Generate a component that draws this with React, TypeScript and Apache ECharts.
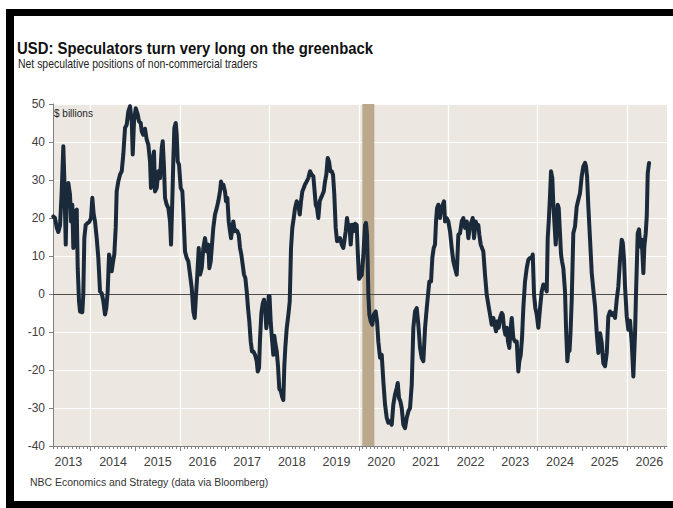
import React, { useEffect, useRef } from 'react';
import * as echarts from 'echarts';

const TITLE = 'USD: Speculators turn very long on the greenback';
const SUBTITLE = 'Net speculative positions of non-commercial traders';
const SOURCE = 'NBC Economics and Strategy (data via Bloomberg)';
const UNIT = '$ billions';

const X_MIN = 2013.156;
const X_MAX = 2026.895;
const Y_MIN = -40;
const Y_MAX = 50;
const Y_STEP = 10;
const YEAR_TICKS = [2014, 2015, 2016, 2017, 2018, 2019, 2020, 2021, 2022, 2023, 2024, 2025, 2026];
const YEAR_LABELS = [2013, 2014, 2015, 2016, 2017, 2018, 2019, 2020, 2021, 2022, 2023, 2024, 2025, 2026];
const GRID_YEARS = [2014, 2016, 2018, 2020, 2022, 2024, 2026];
const RECESSION = [2020.078, 2020.346];

const dates = [
  2013.163, 2013.201, 2013.239, 2013.275, 2013.313, 2013.351, 2013.387, 2013.409, 2013.441, 2013.463,
  2013.499, 2013.537, 2013.559, 2013.588, 2013.611, 2013.649, 2013.687, 2013.709, 2013.738, 2013.761,
  2013.812, 2013.834, 2013.857, 2013.888, 2013.933, 2013.969, 2014.007, 2014.036, 2014.067, 2014.096,
  2014.134, 2014.170, 2014.208, 2014.246, 2014.282, 2014.320, 2014.349, 2014.380, 2014.410, 2014.439,
  2014.470, 2014.499, 2014.528, 2014.559, 2014.581, 2014.617, 2014.655, 2014.694, 2014.729, 2014.768,
  2014.806, 2014.841, 2014.879, 2014.918, 2014.940, 2014.969, 2015.007, 2015.052, 2015.081, 2015.119,
  2015.141, 2015.177, 2015.215, 2015.253, 2015.289, 2015.327, 2015.349, 2015.387, 2015.416, 2015.439,
  2015.477, 2015.513, 2015.551, 2015.589, 2015.611, 2015.640, 2015.663, 2015.701, 2015.737, 2015.775,
  2015.797, 2015.819, 2015.848, 2015.871, 2015.902, 2015.924, 2015.947, 2015.976, 2016.014, 2016.050,
  2016.072, 2016.110, 2016.148, 2016.184, 2016.222, 2016.260, 2016.296, 2016.327, 2016.356, 2016.385,
  2016.417, 2016.446, 2016.484, 2016.520, 2016.558, 2016.596, 2016.632, 2016.654, 2016.685, 2016.714,
  2016.743, 2016.781, 2016.820, 2016.855, 2016.893, 2016.916, 2016.945, 2016.967, 2017.005, 2017.027,
  2017.057, 2017.088, 2017.117, 2017.140, 2017.169, 2017.191, 2017.222, 2017.251, 2017.280, 2017.312,
  2017.341, 2017.370, 2017.401, 2017.430, 2017.460, 2017.491, 2017.520, 2017.549, 2017.580, 2017.609,
  2017.639, 2017.677, 2017.715, 2017.737, 2017.766, 2017.788, 2017.818, 2017.849, 2017.878, 2017.907,
  2017.929, 2017.952, 2017.983, 2018.001, 2018.028, 2018.057, 2018.086, 2018.108, 2018.131, 2018.162,
  2018.191, 2018.220, 2018.252, 2018.281, 2018.310, 2018.332, 2018.355, 2018.386, 2018.422, 2018.453,
  2018.482, 2018.511, 2018.543, 2018.572, 2018.610, 2018.646, 2018.677, 2018.706, 2018.735, 2018.766,
  2018.795, 2018.833, 2018.869, 2018.907, 2018.945, 2018.981, 2019.004, 2019.035, 2019.064, 2019.093,
  2019.124, 2019.153, 2019.183, 2019.214, 2019.243, 2019.272, 2019.303, 2019.332, 2019.362, 2019.393,
  2019.422, 2019.451, 2019.482, 2019.511, 2019.541, 2019.579, 2019.617, 2019.652, 2019.675, 2019.706,
  2019.735, 2019.764, 2019.787, 2019.818, 2019.847, 2019.876, 2019.914, 2019.952, 2019.975, 2020.004,
  2020.033, 2020.064, 2020.100, 2020.138, 2020.160, 2020.183, 2020.198, 2020.212, 2020.234, 2020.266,
  2020.301, 2020.333, 2020.377, 2020.407, 2020.436, 2020.474, 2020.512, 2020.548, 2020.586, 2020.624,
  2020.659, 2020.697, 2020.736, 2020.771, 2020.809, 2020.847, 2020.870, 2020.899, 2020.928, 2020.959,
  2020.995, 2021.033, 2021.071, 2021.107, 2021.145, 2021.183, 2021.219, 2021.257, 2021.295, 2021.331,
  2021.369, 2021.407, 2021.443, 2021.481, 2021.519, 2021.555, 2021.577, 2021.615, 2021.644, 2021.675,
  2021.704, 2021.727, 2021.749, 2021.778, 2021.816, 2021.839, 2021.877, 2021.906, 2021.928, 2021.966,
  2022.002, 2022.040, 2022.078, 2022.114, 2022.152, 2022.190, 2022.226, 2022.264, 2022.302, 2022.338,
  2022.376, 2022.414, 2022.450, 2022.488, 2022.526, 2022.548, 2022.577, 2022.615, 2022.651, 2022.673,
  2022.696, 2022.727, 2022.756, 2022.785, 2022.823, 2022.861, 2022.897, 2022.935, 2022.973, 2023.009,
  2023.040, 2023.069, 2023.098, 2023.130, 2023.159, 2023.197, 2023.219, 2023.248, 2023.278, 2023.309,
  2023.338, 2023.367, 2023.398, 2023.421, 2023.456, 2023.495, 2023.533, 2023.568, 2023.591, 2023.622,
  2023.651, 2023.680, 2023.718, 2023.756, 2023.792, 2023.830, 2023.868, 2023.891, 2023.920, 2023.949,
  2023.980, 2024.016, 2024.054, 2024.092, 2024.128, 2024.166, 2024.204, 2024.226, 2024.249, 2024.278,
  2024.300, 2024.329, 2024.352, 2024.374, 2024.405, 2024.428, 2024.450, 2024.472, 2024.502, 2024.524,
  2024.546, 2024.575, 2024.613, 2024.636, 2024.665, 2024.696, 2024.714, 2024.737, 2024.763, 2024.799,
  2024.837, 2024.875, 2024.911, 2024.949, 2024.987, 2025.023, 2025.061, 2025.083, 2025.106, 2025.135,
  2025.173, 2025.211, 2025.247, 2025.285, 2025.323, 2025.359, 2025.397, 2025.435, 2025.470, 2025.509,
  2025.547, 2025.582, 2025.620, 2025.658, 2025.694, 2025.732, 2025.770, 2025.806, 2025.844, 2025.882,
  2025.905, 2025.934, 2025.956, 2025.994, 2026.030, 2026.068, 2026.106, 2026.142, 2026.180, 2026.202,
  2026.240, 2026.269, 2026.298, 2026.330, 2026.366, 2026.388, 2026.419, 2026.442, 2026.464, 2026.493,
];

const positions = [
  20.4, 20.0, 17.5, 16.3, 18.0, 27.0, 38.9, 30.5, 13.0, 26.0,
  29.2, 26.1, 19.1, 23.5, 12.1, 21.8, 22.2, 6.8, -1.9, -4.6,
  -4.8, -0.2, 14.7, 18.2, 18.7, 19.0, 20.0, 25.3, 20.9, 19.1,
  14.7, 9.5, 0.7, 0.2, -1.9, -5.4, -3.7, 0.7, 10.4, 8.6,
  6.0, 8.5, 10.4, 17.4, 27.0, 29.6, 31.4, 32.3, 36.7, 43.7,
  44.6, 48.0, 49.4, 45.4, 36.7, 45.4, 48.9, 47.2, 45.4, 45.0,
  42.8, 41.9, 43.5, 40.6, 39.3, 34.9, 27.9, 34.9, 37.5, 27.0,
  27.9, 32.3, 30.5, 38.4, 40.2, 33.2, 25.3, 23.5, 22.6, 19.1,
  13.0, 21.8, 34.9, 43.7, 45.0, 41.9, 34.9, 34.0, 27.9, 27.0,
  21.8, 11.2, 9.5, 8.6, 5.1, 1.6, -4.6, -6.3, -0.2, 5.1,
  12.1, 5.1, 6.8, 12.1, 14.7, 11.2, 13.0, 6.8, 8.6, 13.0,
  17.4, 20.9, 22.6, 24.4, 27.0, 29.6, 27.9, 28.8, 27.0, 24.4,
  25.3, 19.1, 16.5, 14.7, 17.4, 19.1, 16.5, 16.8, 16.5, 15.6,
  12.1, 10.4, 7.7, 5.1, 4.2, 0.7, -3.7, -7.2, -12.5, -15.1,
  -15.1, -16.0, -17.7, -20.4, -19.5, -12.0, -5.0, -2.5, -1.5, -4.5,
  -9.0, -6.5, -0.5, -0.5, -7.5, -12.0, -16.0, -11.0, -13.0, -15.0,
  -19.0, -25.0, -25.5, -27.0, -27.9, -19.0, -14.0, -9.0, -5.5, -2.0,
  12.1, 17.4, 20.0, 22.6, 24.4, 23.5, 20.9, 24.4, 27.0, 27.9,
  28.8, 29.6, 30.5, 32.3, 31.4, 31.0, 27.9, 23.5, 22.6, 20.0,
  24.4, 25.3, 26.1, 27.0, 29.6, 31.4, 35.8, 34.9, 32.3, 32.3,
  31.4, 26.1, 17.4, 13.9, 14.0, 14.7, 13.0, 12.1, 13.9, 16.5,
  20.0, 17.4, 18.2, 13.0, 18.2, 16.5, 18.5, 18.2, 11.2, 4.0,
  4.5, 5.0, 10.0, 18.2, 18.7, 15.6, 8.6, -0.2, -5.4, -7.2,
  -8.1, -5.4, -4.6, -7.2, -12.5, -16.8, -16.0, -23.0, -29.1, -32.6,
  -33.9, -33.5, -34.4, -29.1, -26.5, -24.7, -23.4, -27.4, -28.2, -30.0,
  -34.4, -35.3, -32.6, -30.9, -30.0, -23.9, -8.9, -4.6, -3.7, -8.1,
  -14.2, -16.8, -17.7, -8.9, -3.7, 0.7, 3.3, 3.3, 9.5, 12.1,
  13.0, 19.1, 22.6, 23.5, 20.0, 22.2, 23.5, 24.4, 19.1, 20.0,
  19.1, 16.5, 12.1, 8.6, 6.8, 5.1, 15.6, 16.0, 19.1, 20.0,
  17.4, 19.1, 14.7, 18.2, 19.1, 20.0, 14.7, 19.1, 17.4, 18.2,
  15.6, 13.0, 12.1, 11.2, 5.1, -0.2, -2.8, -5.4, -8.1, -6.3,
  -8.1, -9.8, -7.2, -8.9, -6.3, -5.0, -5.4, -8.9, -10.7, -8.9,
  -12.5, -14.2, -8.9, -6.3, -11.6, -12.5, -12.5, -20.4, -17.7, -16.0,
  -11.6, -3.7, 3.3, 6.8, 9.0, 9.5, 9.5, 10.4, -0.2, -3.7,
  -5.4, -8.9, -3.7, 0.7, 2.5, 2.2, 0.7, 14.7, 19.1, 26.1,
  32.3, 30.5, 23.5, 19.1, 13.0, 18.2, 23.5, 22.6, 15.6, 10.4,
  8.6, 6.8, 0.7, -8.9, -17.7, -13.3, -15.0, -10.0, -1.5, 16.0,
  17.8, 23.0, 24.8, 26.6, 31.0, 33.6, 34.5, 33.6, 31.0, 23.0,
  14.3, 5.5, 1.1, -3.2, -10.3, -15.5, -10.3, -12.9, -18.2, -19.0,
  -15.5, -5.9, -4.6, -5.5, -5.0, -6.3, -1.5, 2.0, 9.0, 14.3,
  13.5, 9.0, 2.0, -5.9, -9.4, -7.0, -12.9, -21.7, -10.3, 0.3,
  16.0, 17.0, 12.5, 14.3, 5.5, 12.5, 16.0, 20.4, 31.8, 34.5,
];

const FONT = '"Liberation Sans", Arial, Helvetica, sans-serif';
const LINE_COLOR = '#1b2a3a';
const PLOT_BG = '#ece8e1';
const BAND_COLOR = '#bba88d';
const AXIS_COLOR = '#7f7f7f';

function monthTicks(): number[] {
  const out: number[] = [];
  for (let y = 2013; y <= 2026; y++) {
    for (let m = 0; m < 12; m++) {
      const v = y + m / 12;
      if (v >= X_MIN && v <= X_MAX) out.push(v);
    }
  }
  return out;
}

export default function App() {
  const ref = useRef<HTMLDivElement>(null);

  useEffect(() => {
    if (!ref.current) return;
    const chart = echarts.init(ref.current, null, { renderer: 'svg' });
    const seriesData = dates.map((d, i) => [d, positions[i]]);

    const hiddenAxisBase = {
      type: 'value',
      gridIndex: 0,
      position: 'bottom',
      min: X_MIN,
      max: X_MAX,
      axisLine: { show: false, onZero: false },
      axisLabel: { show: false },
    };

    const zeroStyle = { color: '#4d4d4d', width: 1, type: 'solid' };

    chart.setOption({
      animation: false,
      backgroundColor: '#ffffff',
      grid: {
        left: 53,
        top: 104,
        width: 614,
        height: 342,
        show: true,
        backgroundColor: PLOT_BG,
        borderWidth: 0,
      },
      xAxis: [
        {
          type: 'value',
          gridIndex: 0,
          position: 'bottom',
          min: X_MIN,
          max: X_MAX,
          axisLine: { show: true, onZero: false, lineStyle: { color: AXIS_COLOR, width: 1 } },
          axisTick: { show: true, length: 5, customValues: YEAR_TICKS, lineStyle: { color: AXIS_COLOR, width: 1 } },
          axisLabel: {
            show: true,
            customValues: YEAR_LABELS.map((y) => y + 0.5),
            formatter: (v: number) => String(Math.floor(v)),
            color: '#404040',
            fontSize: 12.5,
            fontFamily: FONT,
            margin: 9,
          },
          splitLine: { show: false },
        },
        {
          ...hiddenAxisBase,
          axisTick: { show: true, length: 3, customValues: monthTicks(), lineStyle: { color: AXIS_COLOR, width: 1 } },
          splitLine: { show: false },
        },
        {
          ...hiddenAxisBase,
          axisTick: { show: false, customValues: GRID_YEARS },
          splitLine: { show: true, lineStyle: { color: '#ffffff', width: 1.2 } },
        },
      ],
      yAxis: {
        type: 'value',
        min: Y_MIN,
        max: Y_MAX,
        interval: Y_STEP,
        axisLine: { show: true, lineStyle: { color: AXIS_COLOR, width: 1 } },
        axisTick: { show: true, length: 4, lineStyle: { color: AXIS_COLOR, width: 1 } },
        axisLabel: { color: '#404040', fontSize: 12, fontFamily: FONT, margin: 8 },
        splitLine: { show: true, lineStyle: { color: '#ffffff', width: 1.2 } },
      },
      series: [
        {
          type: 'line',
          name: 'band',
          xAxisIndex: 0,
          data: [],
          z: 1,
          silent: true,
          markArea: {
            silent: true,
            z: 1,
            itemStyle: { color: BAND_COLOR, opacity: 1 },
            data: [[{ xAxis: RECESSION[0] }, { xAxis: RECESSION[1] }]],
          },
        },
        {
          type: 'line',
          name: 'USD net speculative positions',
          xAxisIndex: 0,
          data: seriesData,
          showSymbol: false,
          symbol: 'none',
          z: 3,
          clip: true,
          lineStyle: { color: LINE_COLOR, width: 4, join: 'round', cap: 'round' },
          markLine: {
            silent: true,
            z: 2,
            symbol: ['none', 'none'],
            label: { show: false },
            lineStyle: zeroStyle,
            emphasis: { disabled: true },
            data: [{ yAxis: 0, lineStyle: zeroStyle }],
          },
        },
      ],
      graphic: [
        { type: 'rect', shape: { x: 6, y: 9, width: 667, height: 7 }, style: { fill: '#000' } },
        { type: 'rect', shape: { x: 6, y: 9, width: 8, height: 499 }, style: { fill: '#000' } },
        { type: 'rect', shape: { x: 6, y: 501, width: 667, height: 7 }, style: { fill: '#000' } },
        {
          type: 'text',
          x: 17,
          y: 48,
          scaleX: 0.93,
          style: { text: TITLE, font: `bold 16px ${FONT}`, fill: '#111111', verticalAlign: 'middle', align: 'left' },
        },
        {
          type: 'text',
          x: 18,
          y: 64,
          scaleX: 0.87,
          style: { text: SUBTITLE, font: `12px ${FONT}`, fill: '#222222', verticalAlign: 'middle', align: 'left' },
        },
        {
          type: 'text',
          x: 54,
          y: 113,
          z: 10,
          style: { text: UNIT, font: `10px ${FONT}`, fill: '#222222', verticalAlign: 'middle', align: 'left' },
        },
        {
          type: 'text',
          x: 30,
          y: 482,
          scaleX: 0.91,
          style: { text: SOURCE, font: `11.5px ${FONT}`, fill: '#333333', verticalAlign: 'middle', align: 'left' },
        },
      ],
    });

    return () => chart.dispose();
  }, []);

  return (
    <div
      ref={ref}
      style={{ position: 'absolute', left: 0, top: 0, width: 673, height: 508, background: '#ffffff' }}
    />
  );
}
